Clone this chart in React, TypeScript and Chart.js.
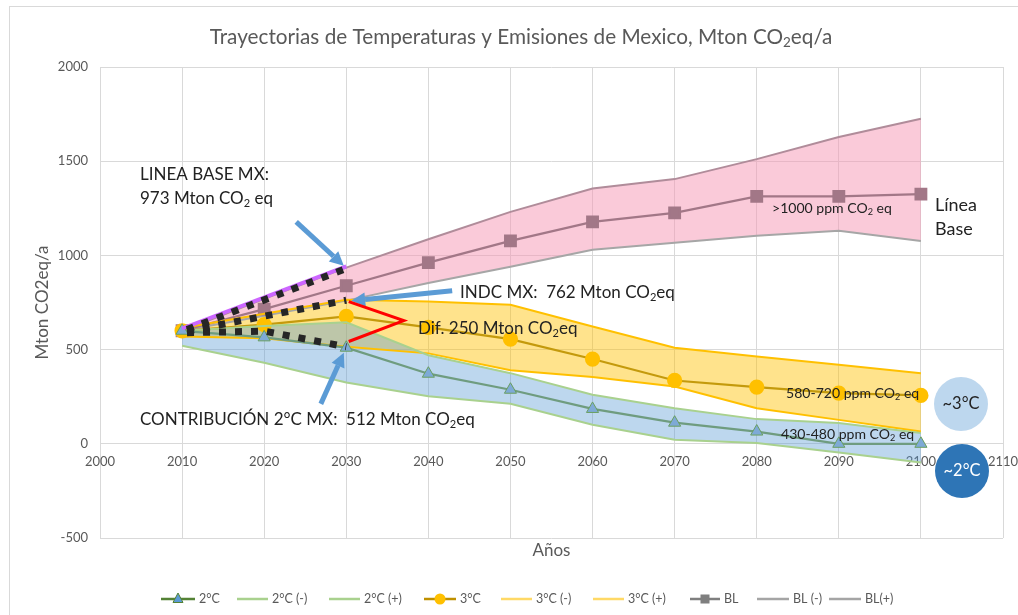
import React, { useEffect, useRef } from "react";
import { Chart, registerables } from "chart.js";
Chart.register(...registerables);

// ---------- data ----------
const years = [2010, 2020, 2030, 2040, 2050, 2060, 2070, 2080, 2090, 2100];
const twoC = [600, 565, 510, 372, 287, 185, 112, 65, 0, 0];
const twoCLow = [520, 430, 325, 252, 212, 101, 21, 4, -46, -99];
const twoCHigh = [600, 625, 645, 470, 375, 260, 189, 131, 110, 57];
const threeC = [600, 632, 676, 618, 556, 450, 336, 301, 269, 257];
const threeCLow = [570, 560, 515, 480, 390, 355, 304, 189, 127, 65];
const threeCHigh = [615, 690, 765, 755, 738, 623, 510, 464, 419, 375];
const baseline = [600, 715, 839, 962, 1077, 1178, 1226, 1313, 1313, 1325];
const baselineLow = [600, 680, 760, 853, 940, 1030, 1067, 1104, 1131, 1077];
const baselineHigh = [600, 770, 935, 1086, 1231, 1355, 1405, 1511, 1628, 1725];

// highlighted trajectories 2010-2030
const lbYears = [2010.6, 2030];
const lbValues = [607, 930];
const indcYears = [2010.6, 2030];
const indcValues = [598, 762];
const contribYears = [2010.6, 2020, 2030];
const contribValues = [590, 598, 515];
const purpleYears = [2010, 2030];
const purpleValues = [612, 942];

const legendLabels = ["2°C", "2°C (-)", "2°C (+)", "3°C", "3°C (-)", "3°C (+)", "BL", "BL (-)", "BL(+)"];

const xMin = 2000, xMax = 2110, xStep = 10;
const yMin = -500, yMax = 2000, yStep = 500;

const FONT = "Lato, 'Open Sans', sans-serif";
const GRAY = "#595959";
const INK = "#222222";

const xy = (xs: number[], vs: number[]) => xs.map((x, i) => ({ x, y: vs[i] }));

// ---------- rich text helpers ----------
type Seg = { t: string; sub: boolean };
function segs(s: string): Seg[] {
  const out: Seg[] = [];
  const re = /\{([^}]*)\}/g;
  let last = 0;
  let m: RegExpExecArray | null;
  while ((m = re.exec(s))) {
    if (m.index > last) out.push({ t: s.slice(last, m.index), sub: false });
    out.push({ t: m[1], sub: true });
    last = re.lastIndex;
  }
  if (last < s.length) out.push({ t: s.slice(last), sub: false });
  return out;
}
function richWidth(ctx: CanvasRenderingContext2D, s: string, size: number) {
  let w = 0;
  for (const sg of segs(s)) {
    ctx.font = `${sg.sub ? size * 0.65 : size}px ${FONT}`;
    w += ctx.measureText(sg.t).width;
  }
  return w;
}
function fitSize(ctx: CanvasRenderingContext2D, s: string, target: number) {
  return (100 * target) / richWidth(ctx, s, 100);
}
function drawRich(ctx: CanvasRenderingContext2D, s: string, x: number, y: number, size: number, color: string, align: "left" | "center" = "left") {
  const w = richWidth(ctx, s, size);
  let cx = align === "center" ? x - w / 2 : x;
  ctx.fillStyle = color;
  ctx.textBaseline = "middle";
  ctx.textAlign = "left";
  for (const sg of segs(s)) {
    const fs = sg.sub ? size * 0.65 : size;
    ctx.font = `${fs}px ${FONT}`;
    ctx.fillText(sg.t, cx, sg.sub ? y + size * 0.28 : y);
    cx += ctx.measureText(sg.t).width;
  }
}
function drawFit(ctx: CanvasRenderingContext2D, s: string, x: number, y: number, target: number, color: string, align: "left" | "center" = "left") {
  drawRich(ctx, s, x, y, fitSize(ctx, s, target), color, align);
}

function arrow(ctx: CanvasRenderingContext2D, x1: number, y1: number, x2: number, y2: number) {
  const ang = Math.atan2(y2 - y1, x2 - x1);
  const head = 14, hw = 7;
  const bx = x2 - Math.cos(ang) * head, by = y2 - Math.sin(ang) * head;
  ctx.strokeStyle = "#5b9bd5";
  ctx.fillStyle = "#5b9bd5";
  ctx.lineWidth = 5;
  ctx.lineCap = "butt";
  ctx.beginPath();
  ctx.moveTo(x1, y1);
  ctx.lineTo(bx, by);
  ctx.stroke();
  ctx.beginPath();
  ctx.moveTo(x2, y2);
  ctx.lineTo(bx + Math.cos(ang + Math.PI / 2) * hw, by + Math.sin(ang + Math.PI / 2) * hw);
  ctx.lineTo(bx + Math.cos(ang - Math.PI / 2) * hw, by + Math.sin(ang - Math.PI / 2) * hw);
  ctx.closePath();
  ctx.fill();
}

const overlay = {
  id: "overlay",
  beforeDraw(chart: any) {
    const ctx: CanvasRenderingContext2D = chart.ctx;
    ctx.save();
    ctx.fillStyle = "#ffffff";
    ctx.fillRect(0, 0, chart.width, chart.height);
    ctx.strokeStyle = "#d9d9d9";
    ctx.lineWidth = 1;
    ctx.strokeRect(9.5, 6.5, 1200, 800);
    ctx.restore();
  },
  afterDraw(chart: any) {
    const ctx: CanvasRenderingContext2D = chart.ctx;
    const xs = chart.scales.x, ys = chart.scales.y;
    const px = (v: number) => xs.getPixelForValue(v);
    const py = (v: number) => ys.getPixelForValue(v);
    const area = chart.chartArea;
    ctx.save();

    // title
    drawFit(ctx, "Trayectorias de Temperaturas y Emisiones de Mexico, Mton CO{2}eq/a", 521, 37, 623, GRAY, "center");
    // axis titles
    ctx.save();
    ctx.translate(42, (area.top + area.bottom) / 2);
    ctx.rotate(-Math.PI / 2);
    drawFit(ctx, "Mton CO2eq/a", 0, 0, 114, GRAY, "center");
    ctx.restore();
    drawFit(ctx, "Años", (area.left + area.right) / 2, 551, 38, GRAY, "center");

    // arrows
    arrow(ctx, px(2023.9), py(1178), px(2029.7), py(945));
    arrow(ctx, px(2042.9), py(812), px(2030.6), py(759));
    arrow(ctx, px(2026.9), py(212), px(2029.7), py(483));

    // red difference bracket
    ctx.strokeStyle = "#ff0000";
    ctx.lineWidth = 3;
    ctx.lineJoin = "miter";
    ctx.beginPath();
    ctx.moveTo(px(2030.3), py(755));
    ctx.lineTo(px(2037.0), py(654));
    ctx.lineTo(px(2030.3), py(543));
    ctx.stroke();

    // annotation texts
    const big = fitSize(ctx, "LINEA BASE MX:", 129);
    drawRich(ctx, "LINEA BASE MX:", 140, 175, big, INK);
    drawRich(ctx, "973 Mton CO{2} eq", 140, 199, big, INK);
    drawRich(ctx, "INDC MX:  762 Mton CO{2}eq", 460, 293, big, INK);
    drawRich(ctx, "Dif. 250 Mton CO{2}eq", 418, 329, big, INK);
    drawRich(ctx, "CONTRIBUCIÓN 2°C MX:  512 Mton CO{2}eq", 140, 420, big, INK);

    const small = fitSize(ctx, ">1000 ppm CO{2} eq", 120);
    drawRich(ctx, ">1000 ppm CO{2} eq", 772, 208, small, INK);
    drawRich(ctx, "580-720 ppm CO{2} eq", 786, 393, small, INK);
    drawRich(ctx, "430-480 ppm CO{2} eq", 781, 434, small, INK);

    const lb = fitSize(ctx, "Línea", 42);
    drawRich(ctx, "Línea", 935, 205, lb, INK);
    drawRich(ctx, "Base", 935, 229, lb, INK);

    // temperature circles
    ctx.fillStyle = "#bdd7ee";
    ctx.beginPath();
    ctx.arc(961, 404, 27, 0, Math.PI * 2);
    ctx.fill();
    ctx.fillStyle = "#2e75b6";
    ctx.beginPath();
    ctx.arc(962, 471, 27, 0, Math.PI * 2);
    ctx.fill();
    const cs = fitSize(ctx, "~3°C", 37);
    drawRich(ctx, "~3°C", 961, 404, cs, INK, "center");
    drawRich(ctx, "~2°C", 962, 471, cs, "#ffffff", "center");

    // legend
    const starts = [161, 237, 329, 424, 501, 593, 690, 757, 829];
    const textX = [199, 272, 364, 460, 536, 628, 724, 793, 865];
    const lineCols = ["#548235", "#a9d18e", "#a9d18e", "#bf9000", "#ffd966", "#ffd966", "#7f7f7f", "#a5a5a5", "#a5a5a5"];
    const ly = 599;
    legendLabels.forEach((lab, i) => {
      const x0 = starts[i], x1 = textX[i] - 4;
      ctx.strokeStyle = lineCols[i];
      ctx.lineWidth = 2.5;
      ctx.beginPath();
      ctx.moveTo(x0, ly);
      ctx.lineTo(x1, ly);
      ctx.stroke();
      const mx = (x0 + x1) / 2;
      if (i === 0) {
        ctx.fillStyle = "#5b9bd5";
        ctx.strokeStyle = "#548235";
        ctx.lineWidth = 1;
        ctx.beginPath();
        ctx.moveTo(mx, ly - 6);
        ctx.lineTo(mx + 5, ly + 3.5);
        ctx.lineTo(mx - 5, ly + 3.5);
        ctx.closePath();
        ctx.fill();
        ctx.stroke();
      } else if (i === 3) {
        ctx.fillStyle = "#ffc000";
        ctx.beginPath();
        ctx.arc(mx, ly, 5.5, 0, Math.PI * 2);
        ctx.fill();
      } else if (i === 6) {
        ctx.fillStyle = "#7f7f7f";
        ctx.fillRect(mx - 4.5, ly - 4.5, 9, 9);
      }
      drawRich(ctx, lab, textX[i], ly, 12.5, GRAY);
    });

    ctx.restore();
  },
};

export default function App() {
  const ref = useRef<HTMLCanvasElement | null>(null);
  useEffect(() => {
    if (!ref.current) return;
    const thin = { pointRadius: 0, pointHoverRadius: 0, borderWidth: 2 };
    const chart = new Chart(ref.current, {
      type: "line",
      data: {
        datasets: [
          { label: "Linea base MX", data: xy(lbYears, lbValues), borderColor: "#262626", borderWidth: 7, borderDash: [7, 9], pointRadius: 0, fill: false },
          { label: "INDC MX", data: xy(indcYears, indcValues), borderColor: "#262626", borderWidth: 7, borderDash: [7, 9], pointRadius: 0, fill: false },
          { label: "Contribución 2°C MX", data: xy(contribYears, contribValues), borderColor: "#262626", borderWidth: 7, borderDash: [7, 9], pointRadius: 0, fill: false },
          { label: "BL 2010-2030", data: xy(purpleYears, purpleValues), borderColor: "#cc66ff", borderWidth: 4, pointRadius: 0, fill: false },
          { label: legendLabels[0], data: xy(years, twoC), borderColor: "#6f9c7f", borderWidth: 2.25, pointStyle: "triangle", pointRadius: 7, pointBackgroundColor: "#7eaad6", pointBorderColor: "#6a9f5f", pointBorderWidth: 1, fill: false },
          { label: legendLabels[1], data: xy(years, twoCLow), borderColor: "#a9d18e", ...thin, fill: false },
          { label: legendLabels[2], data: xy(years, twoCHigh), borderColor: "#a9d18e", ...thin, fill: 5, backgroundColor: "rgba(91,155,213,0.4)" },
          { label: legendLabels[3], data: xy(years, threeC), borderColor: "#c49a0c", borderWidth: 2.25, pointStyle: "circle", pointRadius: 6.5, pointBackgroundColor: "#ffc000", pointBorderColor: "#ffc000", fill: false },
          { label: legendLabels[4], data: xy(years, threeCLow), borderColor: "#ffc000", ...thin, fill: false },
          { label: legendLabels[5], data: xy(years, threeCHigh), borderColor: "#ffc000", ...thin, fill: 8, backgroundColor: "rgba(255,192,0,0.45)" },
          { label: legendLabels[6], data: xy(years, baseline), borderColor: "#a27787", borderWidth: 2.25, pointStyle: "rect", pointRadius: 7.5, pointBackgroundColor: "#a27787", pointBorderColor: "#a27787", fill: false },
          { label: legendLabels[7], data: xy(years, baselineLow), borderColor: "#a6a6a6", ...thin, fill: false },
          { label: legendLabels[8], data: xy(years, baselineHigh), borderColor: "#b08c9a", ...thin, fill: 11, backgroundColor: "rgba(245,150,180,0.5)" },
        ] as any,
      },
      options: {
        responsive: false,
        animation: false,
        events: [],
        layout: { padding: { top: 67, right: 15, bottom: 77, left: 0 } },
        plugins: {
          legend: { display: false },
          tooltip: { enabled: false },
          title: { display: false },
          filler: { drawTime: "beforeDatasetsDraw" } as any,
        },
        scales: {
          x: {
            type: "linear",
            min: xMin,
            max: xMax,
            position: { y: 0 } as any,
            ticks: { stepSize: xStep, color: GRAY, font: { family: FONT, size: 13 }, padding: 10, maxRotation: 0, autoSkip: false, callback: (v: any) => String(v) },
            grid: { color: "#d9d9d9", drawTicks: false },
            border: { color: "#d9d9d9" },
            afterFit: (s: any) => { s.paddingLeft = 0; s.paddingRight = 0; s.height = 0; },
          },
          y: {
            type: "linear",
            min: yMin,
            max: yMax,
            ticks: { stepSize: yStep, color: GRAY, font: { family: FONT, size: 13 }, padding: 12, callback: (v: any) => String(v) },
            grid: { color: "#d9d9d9", drawTicks: false },
            border: { display: false },
            afterFit: (s: any) => { s.width = 100; s.paddingTop = 0; s.paddingBottom = 0; },
          },
        },
      },
      plugins: [overlay],
    });
    return () => chart.destroy();
  }, []);
  return (
    <div style={{ position: "fixed", left: 0, top: 0, width: 1018, height: 615, background: "#fff" }}>
      <canvas ref={ref} width={1018} height={615} style={{ display: "block", width: 1018, height: 615 }} />
    </div>
  );
}
